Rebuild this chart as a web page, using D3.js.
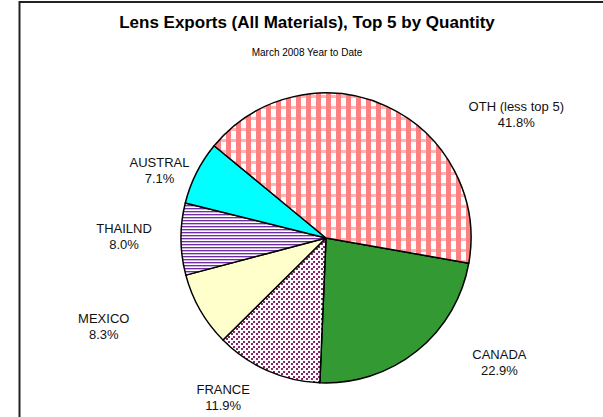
<!DOCTYPE html>
<html lang="en">
<head>
  <meta charset="UTF-8" />
  <title>Lens Exports, Top 5 by Quantity</title>
  <script src="https://d3js.org/d3.v7.min.js"></script>
  <style>
    body {
      margin: 0;
      background-color: #fff;
      font-family: "Liberation Sans", Arial, sans-serif;
    }
    svg {
      display: block;
    }
  </style>
</head>
<body>
<svg width="603" height="417"></svg>

<script>
  // Data (percent of total quantity), clockwise starting from Canada
  const countries = ["CANADA", "FRANCE", "MEXICO", "THAILND", "AUSTRAL", "OTH (less top 5)"];
  const shares = [22.9, 11.9, 8.3, 8.0, 7.1, 41.8];
  const shareLabels = ["22.9%", "11.9%", "8.3%", "8.0%", "7.1%", "41.8%"];

  const svg = d3.select("svg");
  const cx = 326, cy = 238, radius = 145;

  // frame round the chart area
  svg.append("rect")
    .attr("x", 19.5).attr("y", 2)
    .attr("width", 620).attr("height", 500)
    .attr("fill", "none")
    .attr("stroke", "#222")
    .attr("stroke-width", 2);

  svg.append("text")
    .attr("x", 307).attr("y", 28)
    .attr("text-anchor", "middle")
    .style("font-size", "17px")
    .style("font-weight", "bold")
    .text("Lens Exports (All Materials), Top 5 by Quantity");

  svg.append("text")
    .attr("x", 307).attr("y", 56)
    .attr("text-anchor", "middle")
    .style("font-size", "10px")
    .text("March 2008 Year to Date");

  // fill patterns
  const defs = svg.append("defs");

  const plaid = defs.append("pattern").attr("id", "plaid")
    .attr("patternUnits", "userSpaceOnUse").attr("width", 10).attr("height", 11);
  plaid.append("rect").attr("width", 10).attr("height", 11).attr("fill", "#fff");
  plaid.append("rect").attr("x", 0).attr("width", 5).attr("height", 11).attr("fill", "#ff8080");
  plaid.append("rect").attr("y", 0).attr("width", 10).attr("height", 3).attr("fill", "#ff8080").attr("opacity", 0.6);

  const dots = defs.append("pattern").attr("id", "dots")
    .attr("patternUnits", "userSpaceOnUse").attr("width", 5).attr("height", 5);
  dots.append("rect").attr("width", 5).attr("height", 5).attr("fill", "#fff");
  dots.append("rect").attr("x", 0).attr("y", 0).attr("width", 2).attr("height", 2).attr("fill", "#862868");
  dots.append("rect").attr("x", 2).attr("y", 3).attr("width", 2).attr("height", 2).attr("fill", "#862868");

  const stripes = defs.append("pattern").attr("id", "stripes")
    .attr("patternUnits", "userSpaceOnUse").attr("width", 6).attr("height", 3);
  stripes.append("rect").attr("width", 6).attr("height", 3).attr("fill", "#fff");
  stripes.append("rect").attr("y", 0).attr("width", 6).attr("height", 1).attr("fill", "#6f2f9f");
  stripes.append("rect").attr("y", 1).attr("width", 6).attr("height", 1).attr("fill", "#cfb2e6");

  const fills = ["#339933", "url(#dots)", "#ffffcc", "url(#stripes)", "#00ffff", "url(#plaid)"];

  const pie = d3.pie()
    .sort(null)
    .value(d => d)
    .startAngle(100 * Math.PI / 180)
    .endAngle(100 * Math.PI / 180 + 2 * Math.PI);

  const arcs = pie(shares);
  const arc = d3.arc().innerRadius(0).outerRadius(radius);

  const g = svg.append("g").attr("transform", `translate(${cx},${cy})`);

  g.selectAll("path")
    .data(arcs)
    .enter()
    .append("path")
    .attr("d", arc)
    .attr("fill", (d, i) => fills[i])
    .attr("stroke", "#000")
    .attr("stroke-width", 1.5)
    .attr("stroke-linejoin", "round");

  // label placement: shift from slice middle (degrees) and distance from centre
  const labelShift = [-15.7, 9.1, 8.2, 1.1, -4.4, 32.2];
  const labelDist = [213, 189, 239, 202, 180, 227];

  arcs.forEach((d, i) => {
    const a = (d.startAngle + d.endAngle) / 2 + labelShift[i] * Math.PI / 180;
    const pos = d3.arc().innerRadius(labelDist[i]).outerRadius(labelDist[i])
      .startAngle(a).endAngle(a).centroid();
    const t = g.append("text")
      .attr("text-anchor", "middle")
      .style("font-size", "13px")
      .attr("fill", "#111");
    t.append("tspan").attr("x", pos[0]).attr("y", pos[1] - 3).text(countries[i]);
    t.append("tspan").attr("x", pos[0]).attr("y", pos[1] + 13).text(shareLabels[i]);
  });
</script>
</body>
</html>
